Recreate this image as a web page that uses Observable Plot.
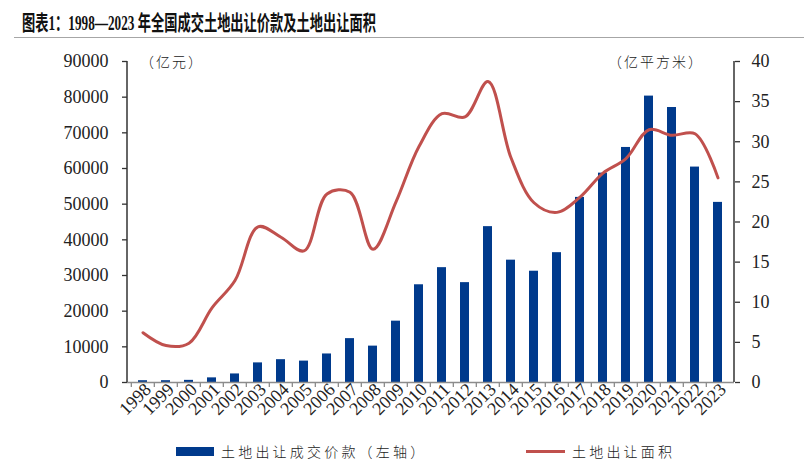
<!DOCTYPE html>
<html><head><meta charset="utf-8">
<script src="https://cdn.jsdelivr.net/npm/d3@7"></script>
<script src="https://cdn.jsdelivr.net/npm/@observablehq/plot@0.6"></script>
<style>
body{margin:0;background:#fff;width:804px;height:473px;overflow:hidden;position:relative;font-family:"Liberation Serif","Noto Sans CJK SC",serif;}
#title{position:absolute;left:22px;top:6px;font-size:21px;font-weight:bold;white-space:nowrap;transform:scaleX(0.63);transform-origin:0 0;color:#111;font-family:"Liberation Serif","Noto Sans CJK SC",serif;}
#rule{position:absolute;left:14px;right:0;top:37px;border-top:1.5px solid #a6a6a6;}
#chart{position:absolute;left:0;top:40px;}
.unit{position:absolute;top:51px;font-family:"Noto Sans CJK SC",sans-serif;font-weight:300;font-size:14px;letter-spacing:2px;color:#222;}
#legend{position:absolute;top:441px;left:0;width:804px;height:20px;font-family:"Noto Sans CJK SC",sans-serif;font-weight:300;font-size:14px;letter-spacing:3.2px;color:#222;}
.lg{position:absolute;top:0;display:flex;align-items:center;height:20px;white-space:nowrap;}
</style></head>
<body>
<div id="title">图表1：1998—2023 年全国成交土地出让价款及土地出让面积</div>
<div id="rule"></div>
<div id="chart"></div>
<div class="unit" style="left:140px">（亿元）</div>
<div class="unit" style="left:608px">（亿平方米）</div>
<div id="legend">
  <div class="lg" style="left:176px"><span style="display:inline-block;width:38px;height:9px;background:#003A8C;margin-right:7px"></span>土地出让成交价款（左轴）</div>
  <div class="lg" style="left:526px"><span style="display:inline-block;width:39px;height:3px;background:#C0504D;margin-right:7px"></span>土地出让面积</div>
</div>
<script>
const years = ["1998","1999","2000","2001","2002","2003","2004","2005","2006","2007","2008","2009","2010","2011","2012","2013","2014","2015","2016","2017","2018","2019","2020","2021","2022","2023"];
const price = [500, 510, 600, 1300, 2400, 5500, 6400, 6000, 8000, 12300, 10200, 17200, 27400, 32200, 28000, 43700, 34300, 31200, 36400, 51900, 58700, 65900, 80300, 77100, 60400, 50500];
const area = [6.2, 4.6, 4.9, 9.3, 12.7, 19.4, 18.1, 16.4, 23.5, 23.7, 16.6, 22.5, 29.4, 33.5, 33.1, 37.5, 28.0, 22.4, 21.2, 23.1, 26.1, 27.9, 31.5, 30.8, 31.0, 25.5];
const leftTicks = [0,10000,20000,30000,40000,50000,60000,70000,80000,90000];
const rightTicks = [0,5,10,15,20,25,30,35,40];
const rightMax = 40, leftMax = 90000;
const k = leftMax / rightMax;

const rows = years.map((y,i)=>({year:y, price:price[i], area:area[i]}));
const W = 804, ML = 127, MR = 70, MT = 21, MB = 55, H = 397;
const step = (W - ML - MR) / years.length;

const chart = Plot.plot({
  width: W, height: H, marginLeft: ML, marginRight: MR, marginTop: MT, marginBottom: MB,
  style: {fontFamily: "Liberation Serif, serif", fontSize: "18px", color: "#222", background: "#fff", overflow: "visible"},
  x: {type: "band", domain: years, paddingInner: 0.6, paddingOuter: 0.3, axis: null},
  y: {domain: [0, leftMax], axis: null},
  marks: [
    Plot.barY(rows, {x: "year", y: "price", fill: "#003A8C"}),
    Plot.line(rows, {x: "year", y: d => d.area * k, stroke: "#C0504D", strokeWidth: 3, curve: "catmull-rom"}),
    Plot.ruleY([0], {stroke: "#8c8c8c", strokeWidth: 1.3}),
    Plot.axisX({tickFormat: () => "", label: null, tickSize: 5, dx: -step/2, stroke: "#8c8c8c", strokeWidth: 1.3}),
    Plot.axisX({tickSize: 0, label: null, tickRotate: -45, tickPadding: 4, fontSize: 18, dx: 5, fill: "#222"}),
    Plot.axisY({ticks: leftTicks, label: null, tickFormat: d => String(d), tickSize: 5, tickPadding: 14, anchor: "left", stroke: "#333", strokeWidth: 1.3, fill: "#222", fontSize: 18}),
    Plot.axisY({ticks: rightTicks.map(v => v * k), label: null, tickFormat: d => String(Math.round(d / k)), tickSize: 5, tickPadding: 12, anchor: "right", stroke: "#333", strokeWidth: 1.3, fill: "#222", fontSize: 18})
  ]
});
document.getElementById("chart").appendChild(chart);
// axis lines
const ys = chart.scale("y");
const svg = d3.select(chart);
svg.append("line").attr("x1", ML).attr("x2", ML).attr("y1", ys.range[0]).attr("y2", ys.range[1]).attr("stroke", "#333").attr("stroke-width", 1.5);
svg.append("line").attr("x1", W - MR).attr("x2", W - MR).attr("y1", ys.range[0]).attr("y2", ys.range[1]).attr("stroke", "#333").attr("stroke-width", 1.5);
</script>
</body></html>
